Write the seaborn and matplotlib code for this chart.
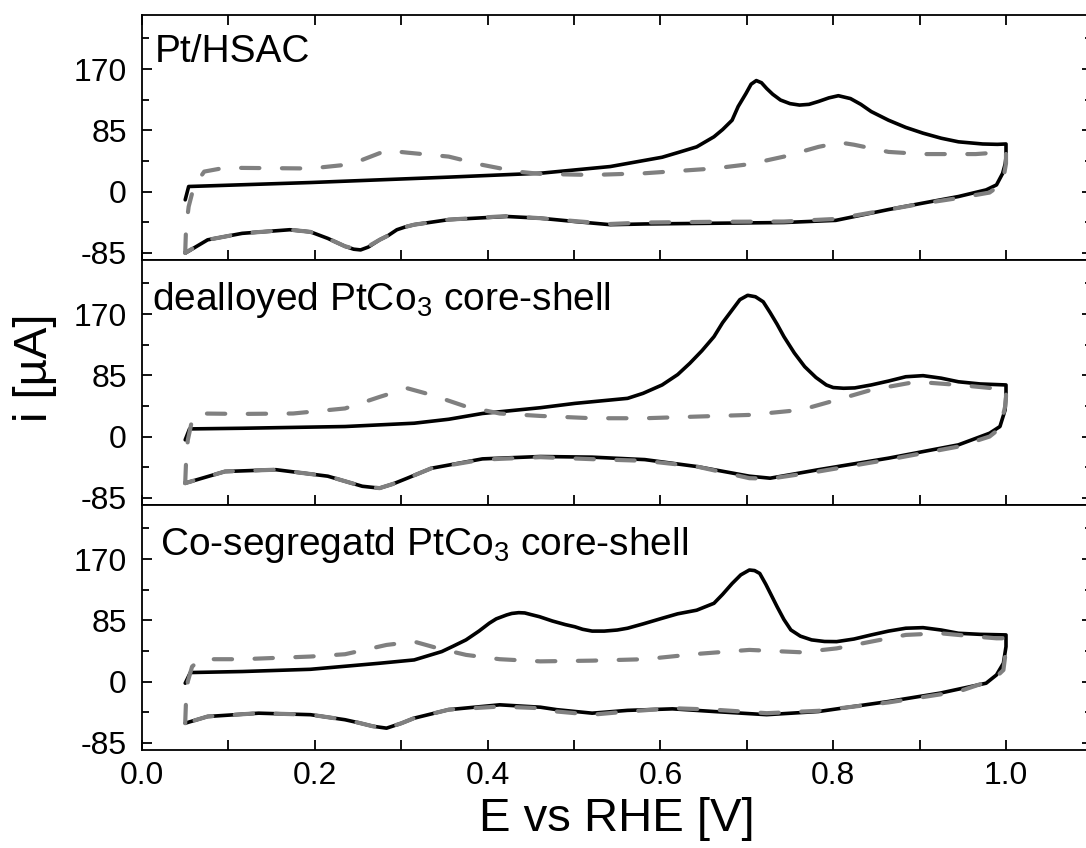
import numpy as np
import pandas as pd
import matplotlib
matplotlib.use("Agg")
import matplotlib.pyplot as plt
from matplotlib.ticker import MultipleLocator
import seaborn as sns

# ---------------- data ----------------
panel_labels = ["Pt/HSAC",
                "dealloyed PtCo$_\\mathregular{3}$ core-shell",
                "Co-segregatd PtCo$_\\mathregular{3}$ core-shell"]
y_ticks = [-85, 0, 85, 170]
x_ticks = [0.0, 0.2, 0.4, 0.6, 0.8, 1.0]

# Panel 1: Pt/HSAC
p1_first_anod_E = [0.050, 0.054, 0.080, 0.195, 0.355, 0.461, 0.542, 0.602, 0.620, 0.642, 0.662, 0.672, 0.683, 0.690,
                   0.699, 0.705, 0.711, 0.717, 0.723, 0.730, 0.739, 0.750, 0.761, 0.772, 0.783, 0.795, 0.806, 0.820,
                   0.832, 0.844, 0.854, 0.864, 0.884, 0.904, 0.925, 0.945, 0.973, 0.990, 1.000]
p1_first_anod_i = [-11.5, 7, 8, 12.5, 20, 25.4, 34.7, 47.6, 54, 62, 76, 86, 99, 118,
                   136, 149, 154, 151, 143, 135, 127, 122, 120, 121, 125, 130, 133, 129,
                   121, 111, 105, 99, 89, 81, 74, 69, 66, 65.5, 66]
p1_first_cath_E = [1.000, 0.999, 0.996, 0.989, 0.977, 0.945, 0.904, 0.864, 0.803, 0.743, 0.662, 0.582, 0.542, 0.501,
                   0.461, 0.422, 0.355, 0.315, 0.305, 0.295, 0.285, 0.275, 0.262, 0.253, 0.245, 0.235, 0.215, 0.195,
                   0.171, 0.116, 0.076, 0.050]
p1_first_cath_i = [48, 38, 25, 9.2, 2.3, -6.9, -16, -25, -40, -43, -44, -45, -46, -41.6,
                   -37, -34.6, -39, -46, -49, -53, -61, -67, -77, -81, -80, -76, -65, -56,
                   -53, -58, -67, -85.5]
p1_second_anod_E = [0.050, 0.051, 0.054, 0.060, 0.072, 0.096, 0.195, 0.235, 0.255, 0.283, 0.307, 0.355, 0.394, 0.434,
                    0.461, 0.521, 0.582, 0.662, 0.703, 0.743, 0.783, 0.808, 0.824, 0.864, 0.904, 0.965, 1.000]
p1_second_anod_i = [-85, -50, -21, 7, 27.7, 33, 32, 37, 44, 57, 54, 48.5, 37, 27.7,
                    24.5, 23, 25.4, 32, 38, 48.5, 62, 68, 65, 55, 52, 52, 55]
p1_second_cath_E = [1.000, 0.998, 0.993, 0.981, 0.945, 0.904, 0.864, 0.803, 0.743, 0.662, 0.582, 0.542, 0.501, 0.461,
                    0.422, 0.355, 0.315, 0.305, 0.295, 0.285, 0.275, 0.262, 0.253, 0.245, 0.235, 0.215, 0.195, 0.171,
                    0.116, 0.076, 0.050]
p1_second_cath_i = [39, 25, 9, -1.4, -9, -16.5, -25, -38, -41.6, -42, -43, -45, -41, -37,
                    -34, -39, -46, -49, -53, -61, -67, -76, -80, -79, -76, -65, -56, -53,
                    -58, -67, -85]

# Panel 2: dealloyed PtCo3
p2_first_anod_E = [0.050, 0.055, 0.116, 0.235, 0.315, 0.355, 0.394, 0.461, 0.501, 0.562, 0.580, 0.602, 0.620, 0.634,
                   0.648, 0.662, 0.672, 0.683, 0.692, 0.701, 0.710, 0.719, 0.727, 0.735, 0.743, 0.755, 0.767, 0.780,
                   0.792, 0.800, 0.812, 0.825, 0.844, 0.864, 0.884, 0.904, 0.925, 0.945, 0.970, 1.000]
p2_first_anod_i = [-4.6, 10.6, 11.5, 13.9, 18.5, 24, 32, 40, 46, 53, 60, 71.6, 86, 101.6,
                   119, 138.6, 158, 175.6, 190, 196, 194, 187, 172, 156, 138.6, 116, 97, 82,
                   71.6, 68, 67, 67.5, 71.6, 77, 83, 84.5, 81, 76, 73, 71.6]
p2_first_cath_E = [1.000, 0.999, 0.993, 0.981, 0.945, 0.864, 0.783, 0.727, 0.703, 0.642, 0.582, 0.521, 0.461, 0.394,
                   0.335, 0.307, 0.290, 0.275, 0.255, 0.235, 0.215, 0.155, 0.096, 0.050]
p2_first_cath_i = [60, 37, 13.9, 4.6, -11.5, -30, -46, -57.8, -55, -41.6, -32, -28.6, -27.7, -31,
                   -44, -57.8, -66, -71.6, -69, -62, -55, -46, -48.5, -64.7]
p2_second_anod_E = [0.050, 0.051, 0.053, 0.058, 0.064, 0.116, 0.175, 0.235, 0.275, 0.307, 0.335, 0.375, 0.414, 0.461,
                    0.521, 0.582, 0.642, 0.703, 0.763, 0.804, 0.844, 0.896, 0.945, 0.985, 1.000]
p2_second_anod_i = [-64.7, -35, -5, 23, 32, 31.4, 32, 39, 55, 67, 57.8, 41.6, 32, 28.6,
                    25.4, 25.4, 27.7, 30, 37, 50.8, 64.7, 76, 71.6, 67, 67]
p2_second_cath_E = [1.000, 0.999, 0.993, 0.981, 0.945, 0.864, 0.783, 0.727, 0.703, 0.642, 0.582, 0.521, 0.461, 0.394,
                    0.335, 0.307, 0.290, 0.275, 0.255, 0.235, 0.215, 0.155, 0.096, 0.050]
p2_second_cath_i = [55, 41.6, 11.5, 0, -13.9, -32, -48.5, -58.5, -57.8, -41.6, -33.7, -31.4, -28.6, -32,
                    -44, -57.8, -66, -71.6, -69, -62, -55, -46, -48.5, -64.7]

# Panel 3: Co-segregated PtCo3
p3_first_anod_E = [0.050, 0.056, 0.116, 0.195, 0.275, 0.315, 0.347, 0.360, 0.375, 0.390, 0.402, 0.410, 0.422, 0.428,
                   0.436, 0.443, 0.450, 0.460, 0.475, 0.490, 0.501, 0.510, 0.521, 0.535, 0.550, 0.562, 0.580, 0.602,
                   0.620, 0.642, 0.662, 0.672, 0.683, 0.693, 0.703, 0.709, 0.715, 0.722, 0.735, 0.743, 0.751, 0.762,
                   0.775, 0.790, 0.804, 0.824, 0.844, 0.864, 0.884, 0.904, 0.925, 0.945, 0.970, 1.000]
p3_first_anod_i = [-2.3, 12.5, 13.9, 17, 25.4, 30, 41.6, 49, 57.8, 70, 81, 87, 92.4, 94.5,
                   95.6, 95.2, 93, 90, 84, 79, 76, 72.5, 70, 70, 71.5, 74, 80, 87.8,
                   94, 99, 108.6, 121, 136, 148, 154.8, 154, 150, 135, 104, 86, 71.6, 63,
                   57.8, 55.6, 55.4, 59, 64.7, 70, 74, 74.8, 71.5, 67, 65.5, 64.7]
p3_first_cath_E = [1.000, 0.997, 0.989, 0.977, 0.924, 0.864, 0.783, 0.723, 0.662, 0.614, 0.562, 0.521, 0.480, 0.461,
                   0.414, 0.355, 0.315, 0.300, 0.283, 0.267, 0.250, 0.235, 0.195, 0.135, 0.076, 0.050]
p3_first_cath_i = [48.5, 25.4, 9.2, -2.3, -16, -27.7, -41.6, -46, -41.6, -37.9, -40, -43.9, -39, -35.6,
                   -32.3, -39, -50.8, -58, -64.7, -62, -57, -53, -46, -43.9, -48.5, -57.8]
p3_second_anod_E = [0.050, 0.051, 0.053, 0.058, 0.068, 0.116, 0.195, 0.235, 0.283, 0.315, 0.343, 0.375, 0.414, 0.461,
                    0.521, 0.582, 0.642, 0.703, 0.763, 0.804, 0.844, 0.884, 0.924, 0.965, 0.989, 1.000]
p3_second_anod_i = [-57.8, -25, 0, 20.8, 31, 31, 34.7, 37.9, 50.8, 55.4, 46, 37, 31, 28,
                    29, 31, 38.3, 43.9, 40.6, 46, 55.4, 64.7, 67, 62.4, 60, 60]
p3_second_cath_E = [1.000, 0.997, 0.985, 0.945, 0.864, 0.783, 0.723, 0.662, 0.614, 0.562, 0.521, 0.480, 0.461, 0.414,
                    0.355, 0.315, 0.300, 0.283, 0.267, 0.250, 0.235, 0.195, 0.135, 0.076, 0.050]
p3_second_cath_i = [43.9, 16, 2.3, -13.9, -29, -40.6, -43.9, -39, -37, -41.6, -46, -41.6, -37, -34.7,
                    -39, -50.8, -58, -64.7, -62, -57, -53, -46, -43.9, -48.5, -57.8]


def build(fa_E, fa_i, fc_E, fc_i, sa_E, sa_i, sc_E, sc_i):
    rows = []
    for scan, E_list, i_list in (("first", fa_E + fc_E, fa_i + fc_i),
                                 ("second", sa_E + sc_E, sa_i + sc_i)):
        for k, (e, c) in enumerate(zip(E_list, i_list)):
            rows.append({"E": e, "i": c, "scan": scan, "k": k})
    return pd.DataFrame(rows)


frames = [
    build(p1_first_anod_E, p1_first_anod_i, p1_first_cath_E, p1_first_cath_i,
          p1_second_anod_E, p1_second_anod_i, p1_second_cath_E, p1_second_cath_i),
    build(p2_first_anod_E, p2_first_anod_i, p2_first_cath_E, p2_first_cath_i,
          p2_second_anod_E, p2_second_anod_i, p2_second_cath_E, p2_second_cath_i),
    build(p3_first_anod_E, p3_first_anod_i, p3_first_cath_E, p3_first_cath_i,
          p3_second_anod_E, p3_second_anod_i, p3_second_cath_E, p3_second_cath_i),
]

# ---------------- style ----------------
sns.set_theme(style="ticks")
plt.rcParams["font.family"] = ["Liberation Sans", "DejaVu Sans"]
plt.rcParams["mathtext.fontset"] = "custom"
plt.rcParams["mathtext.rm"] = "Liberation Sans"
plt.rcParams["lines.dash_capstyle"] = "round"
plt.rcParams["lines.solid_capstyle"] = "round"
plt.rcParams["lines.solid_joinstyle"] = "round"
plt.rcParams["lines.dash_joinstyle"] = "round"

W, H = 1086, 848
fig = plt.figure(figsize=(W / 100, H / 100), dpi=100)
fig.patch.set_facecolor("white")

left = 142 / W
width = (1092.4 - 142) / W
ph = 245 / H
tops_px = [15, 260, 505]
label_pos = [(0.013, 0.809), (0.010, 0.797), (0.019, 0.797)]

axes = []
for n in range(3):
    bottom = 1 - (tops_px[n] + 245) / H
    ax = fig.add_axes([left, bottom, width, ph])
    ax.set_facecolor("white")
    sns.lineplot(data=frames[n], x="E", y="i", hue="scan", style="scan", size="scan",
                 hue_order=["first", "second"],
                 palette={"first": "#000000", "second": "#808080"},
                 dashes={"first": "", "second": (4.4, 5.4)},
                 sizes={"first": 2.6, "second": 3.0},
                 sort=False, estimator=None, legend=False, ax=ax)
    ax.set_xlim(0, 1.1)
    ax.set_ylim(-95, 245)
    ax.xaxis.set_major_locator(MultipleLocator(0.2))
    ax.xaxis.set_minor_locator(MultipleLocator(0.1))
    ax.set_yticks(y_ticks)
    ax.yaxis.set_minor_locator(MultipleLocator(42.5))
    ax.set_xlabel("")
    ax.set_ylabel("")
    for s in ax.spines.values():
        s.set_linewidth(1.3)
        s.set_color("black")
        s.set_visible(True)
    ax.tick_params(axis="both", which="both", direction="in", width=1.3, color="black",
                   labelsize=23, labelcolor="black")
    ax.tick_params(axis="y", which="major", length=7.2, pad=11, right=True, left=True)
    ax.tick_params(axis="y", which="minor", length=4.8, right=True, left=True)
    ax.tick_params(axis="x", which="both", length=7.2, pad=8, top=(n == 0), bottom=True,
                   labelbottom=(n == 2))
    ax.set_yticklabels([str(v) for v in y_ticks])
    if n == 2:
        ax.set_xticks(x_ticks)
        ax.set_xticklabels([f"{v:.1f}" for v in x_ticks])
    ax.text(label_pos[n][0], label_pos[n][1], panel_labels[n], transform=ax.transAxes,
            fontsize=28, ha="left", va="baseline", color="black")
    ax.grid(False)
    axes.append(ax)

axes[2].set_xlabel("E vs RHE [V]", fontsize=34, labelpad=4, color="black")
fig.text(35 / W, 1 - 368 / H, "i [µA]", rotation=90, fontsize=34, ha="center", va="center", color="black")

fig.savefig("out.png", dpi=100, facecolor="white")
